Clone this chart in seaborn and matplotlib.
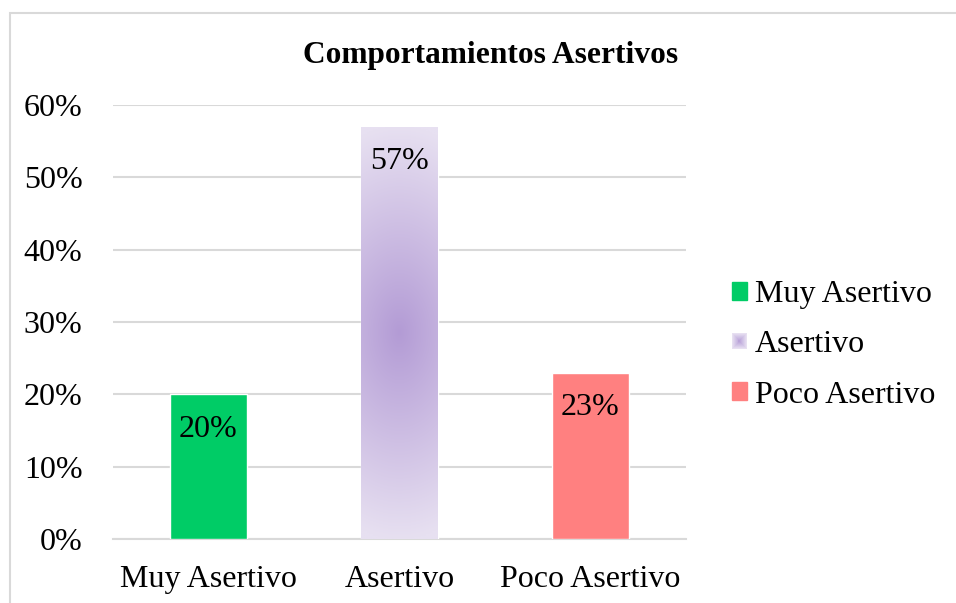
import numpy as np
import pandas as pd
import seaborn as sns
import matplotlib.pyplot as plt
from matplotlib.patches import Rectangle
from matplotlib.legend_handler import HandlerBase
from matplotlib.colors import to_rgb

categories = ["Muy Asertivo", "Asertivo", "Poco Asertivo"]
values = [0.20, 0.57, 0.23]
labels = ["20%", "57%", "23%"]
colors = ["#00CC66", "#B59DD6", "#FF8080"]
yticks = [0.0, 0.1, 0.2, 0.3, 0.4, 0.5, 0.6]
ytick_labels = ["0%", "10%", "20%", "30%", "40%", "50%", "60%"]

GRID = "#D9D9D9"
PURPLE_CENTER = "#B39BD5"
PURPLE_EDGE = "#E7E0F1"
FS = 23


def gradient_image(n_y=300, n_x=60, sx=0.3):
    yy, xx = np.mgrid[-1:1:n_y * 1j, -1:1:n_x * 1j]
    t = np.clip(np.sqrt(yy ** 2 + (sx * xx) ** 2), 0, 1)
    c0 = np.array(to_rgb(PURPLE_CENTER))
    c1 = np.array(to_rgb(PURPLE_EDGE))
    return c0 + (c1 - c0) * t[..., None]


class GradientSquare(HandlerBase):
    def create_artists(self, legend, orig_handle, xdescent, ydescent,
                       width, height, fontsize, trans):
        side = min(width, height)
        x0 = -xdescent + (width - side) / 2
        y0 = -ydescent + (height - side) / 2
        arts = []
        c0 = np.array(to_rgb(PURPLE_CENTER))
        c1 = np.array(to_rgb(PURPLE_EDGE))
        n = 8
        for i in range(n):
            f = 1 - i / n
            s = side * f
            col = c0 + (c1 - c0) * f
            arts.append(Rectangle((x0 + (side - s) / 2, y0 + (side - s) / 2), s, s,
                                  facecolor=col, edgecolor="none", transform=trans))
        return arts


sns.set_theme(style="white")
plt.rcParams["font.family"] = ["Liberation Serif", "DejaVu Serif"]
plt.rcParams["text.color"] = "black"

df = pd.DataFrame({"categoria": categories, "valor": values})

fig = plt.figure(figsize=(9.56, 6.03), dpi=100)
ax = fig.add_axes([113 / 956, 1 - 539 / 603, 573 / 956, 434 / 603])

sns.barplot(data=df, x="categoria", y="valor", hue="categoria",
            palette=colors, width=0.4, ax=ax, legend=False,
            saturation=1, zorder=3)

# purple bar gets a radial-ish gradient fill
bar = ax.patches[1]
bx, by = bar.get_x(), bar.get_y()
bw, bh = bar.get_width(), bar.get_height()
bar.set_facecolor("none")
img = ax.imshow(gradient_image(), extent=[bx, bx + bw, by, by + bh],
                aspect="auto", zorder=3, interpolation="bilinear")
img.set_clip_path(bar)

ax.set_xlim(-0.5, 2.5)
ax.set_ylim(0, 0.6)
ax.set_yticks(yticks)
ax.set_yticklabels(ytick_labels)
ax.yaxis.grid(True, color=GRID, linewidth=1.5, zorder=0)
ax.set_axisbelow(True)
for s in ["top", "right", "left"]:
    ax.spines[s].set_visible(False)
ax.spines["bottom"].set_color(GRID)
ax.spines["bottom"].set_linewidth(1.5)
ax.tick_params(axis="both", length=0, labelsize=FS, labelcolor="black")
ax.tick_params(axis="y", pad=22)
ax.tick_params(axis="x", pad=19)
ax.set_xlabel("")
ax.set_ylabel("")

for i, (v, lab) in enumerate(zip(values, labels)):
    ax.annotate(lab, (i, v), xytext=(0, -25), textcoords="offset points",
                ha="center", va="center", fontsize=FS, color="black", zorder=5)

fig.text(491 / 956, 1 - 55 / 603, "Comportamientos Asertivos",
         ha="center", va="center", fontsize=22.6, fontweight="bold",
         color="black")

handles = [Rectangle((0, 0), 1, 1, color=colors[0]),
           Rectangle((0, 0), 1, 1, color=colors[1]),
           Rectangle((0, 0), 1, 1, color=colors[2])]
leg = fig.legend(handles, categories, loc="center left",
                 bbox_to_anchor=(703 / 956, 1 - 345 / 603), frameon=False,
                 fontsize=FS, handlelength=0.48, handleheight=0.48,
                 handletextpad=0.25, labelspacing=0.66,
                 handler_map={handles[1]: GradientSquare()})
for t in leg.get_texts():
    t.set_color("black")

fig.patches.append(Rectangle((9.5 / 956, -0.1), 1.2, 1.1 - 13.5 / 603,
                             transform=fig.transFigure, fill=False,
                             edgecolor=GRID, linewidth=1.5))

fig.savefig("out.png", dpi=100)
